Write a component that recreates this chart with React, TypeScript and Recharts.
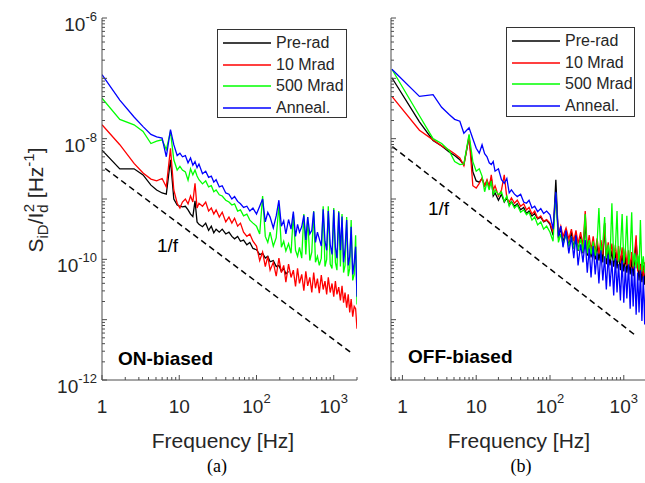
import React from "react";
import { LineChart, Line, XAxis, YAxis, Legend } from "recharts";

const SANS = "'Liberation Sans', Arial, sans-serif";
const SERIF = "'Liberation Serif', 'Times New Roman', serif";
const TEXT = "#262626";
const FRAME = "#4d4d4d";

const SERIES_KEYS = ["pre", "m10", "m500", "anneal"];
const SERIES_NAMES = ["Pre-rad", "10 Mrad", "500 Mrad", "Anneal."];
const SERIES_COLORS = ["#000000", "#ff0000", "#00ff00", "#0000ff"];

// frequency bins [Hz]
const FREQ_LOW_A = [1, 1.7, 2.6, 3.4, 4.3, 5.1, 6, 6.8, 7.7, 8.5, 9.4, 10.2, 11, 12, 13, 14, 15, 16, 17, 18, 20, 22, 24, 26, 28, 30, 33, 36, 40, 44, 48, 52, 57, 62, 68, 75, 82, 90];
const FREQ_LOW_B = [0.72, 1.7, 2.6, 3.4, 4.3, 5.1, 6, 6.8, 8, 9, 10, 11, 12, 13, 14, 15, 16, 17, 18, 20, 22, 24, 26, 28, 30, 33, 36, 40, 44, 48, 52, 57, 62, 68, 75, 82, 90];
const FREQ_HIGH = [100, 110, 120, 130, 140, 150, 165, 180, 195, 210, 225, 240, 260, 280, 300, 320, 340, 360, 385, 410, 435, 460, 490, 520, 550, 580, 615, 650, 690, 730, 770, 810, 850, 900, 950, 1000, 1050, 1100, 1160, 1220, 1280, 1340, 1400, 1470, 1540, 1610, 1680, 1760, 1840, 1920, 2000];

// log10(S_iD / I_d^2). (a) ON-biased
const A_PRE = [
  -8.19, -8.5, -8.5, -8.6, -8.77, -8.85, -8.9, -8.92, -8.35, -9.0, -9.1, -9.12, -9.13, -9.12, -9.18, -9.25, -9.29, -9.03, -9.38, -9.42,
  -9.46, -9.4, -9.52, -9.45, -9.56, -9.5, -9.55, -9.5, -9.58, -9.55, -9.62, -9.66, -9.62, -9.7, -9.68, -9.76, -9.72, -9.82,
  -9.84, -9.92, -9.9, -9.98, -9.95, -10.04, -10.02, -10.12, -10.1, -10.2, -10.15, -10.24, -10.2,
  null, null, null, null, null, null, null, null, null, null, null, null, null, null, null, null, null, null, null,
  null, null, null, null, null, null, null, null, null, null, null, null, null, null, null, null, null, null, null,
];
const A_10M = [
  -7.77, -8.1, -8.41, -8.57, -8.67, -8.7, -8.66, -8.8, -8.16, -8.85, -9.07, -9.15, -9.05, -9.0, -9.08, -8.95, -9.05, -8.74, -9.15, -9.07,
  -9.12, -9.05, -9.2, -9.15, -9.25, -9.18, -9.3, -9.22, -9.38, -9.3, -9.4, -9.32, -9.45, -9.4, -9.55, -9.62, -9.58, -9.7,
  -9.78, -10.02, -9.88, -10.12, -9.95, -10.18, -10.05, -10.28, -9.98, -10.22, -10.1, -10.38, -10.08, -10.3, -10.18, -10.45, -10.15,
  -10.4, -10.25, -10.52, -10.2, -10.44, -10.3, -10.55, -10.22, -10.48, -10.32, -10.56, -10.26, -10.5, -10.36, -10.58, -10.3,
  -10.55, -10.4, -10.62, -10.36, -10.58, -10.46, -10.68, -10.44, -10.72, -10.55, -10.8, -10.58, -10.88, -10.66, -10.95, -10.78,
  -10.82, -11.15,
];
const A_500M = [
  -7.33, -7.68, -7.77, -7.88, -8.08, -8.04, -8.02, -8.18, -7.88, -8.35, -8.52, -8.46, -8.52, -8.55, -8.69, -8.5, -8.6, -8.52, -8.62, -8.68,
  -8.75, -8.7, -8.8, -8.78, -8.88, -8.85, -8.93, -8.95, -9.02, -9.05, -9.1, -9.08, -9.2, -9.18, -9.28, -9.25, -9.35, -9.4,
  -9.45, -9.58, -8.95, -9.62, -9.72, -9.55, -9.78, -9.64, -9.1, -9.8, -9.7, -9.86, -9.74, -9.9, -9.25, -9.85, -9.95,
  -9.8, -9.98, -9.25, -9.92, -9.3, -10.02, -9.88, -9.2, -10.05, -9.95, -10.1, -9.98, -9.12, -10.12, -10.0, -9.12,
  -10.08, -10.15, -9.15, -10.05, -10.18, -9.2, -10.12, -9.25, -10.22, -10.1, -9.3, -10.28, -10.15, -9.35, -10.35, -10.25,
  -9.6, -10.75,
];
const A_ANNEAL = [
  -6.94, -7.36, -7.64, -7.8, -7.93, -7.97, -7.99, -8.3, -7.85, -8.1, -8.28, -8.24, -8.3, -8.28, -8.4, -8.32, -8.44, -8.38, -8.48, -8.42,
  -8.58, -8.54, -8.64, -8.62, -8.72, -8.68, -8.8, -8.78, -8.9, -8.92, -9.0, -8.96, -9.04, -9.08, -9.14, -9.12, -9.2, -9.15,
  -9.25, -9.12, -9.0, -9.38, -9.22, -9.3, -9.48, -9.28, -9.02, -9.45, -9.36, -9.58, -9.34, -9.5, -9.21, -9.62, -9.42,
  -9.55, -9.46, -9.27, -9.68, -9.3, -9.58, -9.52, -9.21, -9.72, -9.55, -9.66, -9.78, -9.17, -9.7, -9.85, -9.2,
  -9.75, -9.92, -9.18, -9.8, -9.98, -9.22, -9.85, -9.29, -10.05, -9.82, -9.35, -10.1, -9.95, -9.46, -10.25, -10.05,
  -9.79, -10.62,
];

// (b) OFF-biased
const B_PRE = [
  -6.99, -7.72, -8.03, -8.12, -8.22, -8.28, -8.35, -8.43, -7.98, -8.55, -8.7, -8.72, -8.66, -8.78, -8.7, -8.8, -8.65, -8.95, -8.9, -9.02,
  -8.92, -9.05, -8.98, -9.1, -9.04, -9.12, -9.08, -9.18, -9.14, -9.24, -9.2, -9.28, -9.24, -9.33, -9.3, -9.38, -9.35,
  -9.42, -9.6, -8.68, -9.65, -9.48, -9.72, -9.52, -9.78, -9.55, -9.82, -9.58, -9.86, -9.62, -9.9, -9.4, -9.94, -9.68,
  -9.97, -9.72, -10.0, -9.75, -10.02, -9.78, -10.05, -9.4, -10.08, -9.82, -10.1, -9.85, -10.12, -9.88, -10.15, -9.9,
  -10.18, -9.92, -10.2, -9.95, -10.22, -9.98, -10.25, -10.0, -10.28, -10.02, -9.7, -10.05, -10.35, -10.08, -10.38, -10.1,
  -10.42, -10.15,
];
const B_10M = [
  -7.3, -7.86, -8.02, -8.12, -8.19, -8.25, -8.32, -8.45, -7.95, -8.78, -8.82, -8.74, -8.65, -8.78, -8.68, -8.8, -8.6, -8.85, -8.78, -8.95,
  -8.85, -8.6, -8.99, -9.05, -8.98, -9.07, -9.02, -9.12, -9.08, -9.18, -9.14, -9.25, -9.2, -9.32, -9.28, -9.37, -9.34,
  -9.4, -9.55, -8.95, -9.58, -9.45, -9.62, -9.48, -9.66, -9.5, -9.7, -9.52, -9.74, -9.55, -9.78, -9.2, -9.82, -9.6,
  -9.85, -9.62, -9.88, -9.65, -9.9, -9.68, -9.92, -9.4, -9.95, -9.72, -9.98, -9.74, -10.0, -9.76, -10.02, -9.78,
  -10.05, -9.8, -10.08, -9.82, -10.1, -9.85, -10.12, -9.88, -10.15, -9.9, -9.6, -10.2, -9.95, -10.25, -10.0, -10.3,
  -10.05, -10.35,
];
const B_500M = [
  -6.85, -7.62, -8.0, -8.08, -8.2, -8.38, -8.43, -8.42, -7.93, -8.38, -8.54, -8.5, -8.62, -8.88, -8.72, -8.85, -8.7, -8.93, -8.85, -8.93,
  -8.88, -9.04, -8.95, -9.12, -9.05, -9.15, -9.1, -9.22, -9.18, -9.26, -9.22, -9.35, -9.3, -9.43, -9.38, -9.5, -9.45,
  -9.55, -9.7, -8.9, -9.72, -9.58, -9.75, -9.6, -9.78, -9.62, -9.82, -9.65, -9.85, -9.66, -9.88, -9.25, -9.9, -9.68,
  -9.92, -9.7, -9.94, -9.72, -9.15, -9.96, -9.74, -9.3, -9.98, -9.76, -10.0, -9.07, -10.02, -9.8, -9.2, -10.04,
  -9.82, -9.25, -10.06, -9.85, -9.28, -10.1, -9.88, -9.22, -10.12, -9.9, -10.15, -9.92, -10.18, -9.35, -10.2, -9.95,
  -10.22, -10.0,
];
const B_ANNEAL = [
  -6.85, -7.3, -7.27, -7.48, -7.6, -7.68, -7.71, -7.91, -7.82, -8.0, -8.16, -8.24, -8.1, -8.25, -8.3, -8.4, -8.43, -8.38, -8.54, -8.5,
  -8.68, -8.74, -8.66, -8.9, -8.85, -8.92, -8.96, -8.92, -9.05, -9.07, -9.02, -9.15, -9.12, -9.21, -9.16, -9.24, -9.2,
  -9.26, -9.5, -8.88, -9.62, -9.45, -9.8, -9.52, -9.9, -9.62, -9.98, -9.6, -10.1, -9.75, -10.05, -9.68, -10.22, -9.82,
  -10.3, -9.78, -10.25, -9.9, -10.4, -9.85, -10.35, -9.95, -10.5, -9.92, -10.45, -10.02, -10.6, -9.98, -10.55, -10.08,
  -10.68, -10.02, -10.72, -10.12, -10.65, -10.08, -10.82, -10.15, -10.78, -10.12, -10.92, -10.22, -10.88, -10.18, -11.02, -10.28,
  -11.08, -10.25,
];

// 1/f guide lines, end points
const GUIDE_A = [{ f: 1.1, v: 3.2e-9 }, { f: 1700, v: 2.8e-12 }];
const GUIDE_B = [{ f: 0.73, v: 7.4e-9 }, { f: 1440, v: 5.5e-12 }];

const X_TICKS_A = [1, 2, 3, 4, 5, 6, 7, 8, 9, 10, 20, 30, 40, 50, 60, 70, 80, 90, 100, 200, 300, 400, 500, 600, 700, 800, 900, 1000, 2000];
const X_TICKS_B = [0.7, 0.8, 0.9, ...X_TICKS_A];
const Y_TICKS: number[] = [];
for (let e = -12; e < -6; e++) for (let k = 1; k < 10; k++) Y_TICKS.push(k * Math.pow(10, e));
Y_TICKS.push(1e-6);

function buildRows(freqs: number[], series: (number | null)[][]) {
  return freqs.map((f, i) => {
    const row: any = { f };
    SERIES_KEYS.forEach((key, s) => {
      const e = series[s][i];
      row[key] = e == null ? null : Math.pow(10, e);
    });
    return row;
  });
}

const ROWS_A = buildRows([...FREQ_LOW_A, ...FREQ_HIGH], [A_PRE, A_10M, A_500M, A_ANNEAL]);
const ROWS_B = buildRows([...FREQ_LOW_B, ...FREQ_HIGH], [B_PRE, B_10M, B_500M, B_ANNEAL]);

const isDecade = (v: number) => Math.abs(Math.log10(v) - Math.round(Math.log10(v))) < 1e-6;

function BottomTick(props: any) {
  const { x, y, payload } = props;
  const v = payload.value;
  const major = isDecade(v);
  const exp = Math.round(Math.log10(v));
  return (
    <g>
      <line x1={x} x2={x} y1={y} y2={y - (major ? 5 : 3)} stroke={FRAME} />
      {major && (
        <text x={x} y={y + 33} textAnchor="middle" fontFamily={SANS} fontSize={19} fill={TEXT}>
          {exp < 2 ? (
            <tspan>{String(Math.round(v))}</tspan>
          ) : (
            <>
              <tspan>10</tspan>
              <tspan dy={-10} fontSize={13}>{exp}</tspan>
            </>
          )}
        </text>
      )}
    </g>
  );
}

function TopTick(props: any) {
  const { x, y, payload } = props;
  const len = isDecade(payload.value) ? 5 : 3;
  return <line x1={x} x2={x} y1={y} y2={y + len} stroke={FRAME} />;
}

function LeftTick(props: any) {
  const { x, y, payload, showLabel } = props;
  const v = payload.value;
  const major = isDecade(v);
  const exp = Math.round(Math.log10(v));
  return (
    <g>
      <line x1={x} x2={x + (major ? 5 : 3)} y1={y} y2={y} stroke={FRAME} />
      {showLabel && major && exp % 2 === 0 && (
        <text x={x - 5} y={y + 13} textAnchor="end" fontFamily={SANS} fontSize={19} fill={TEXT}>
          <tspan>10</tspan>
          <tspan dy={-10} fontSize={13}>{String(exp)}</tspan>
        </text>
      )}
    </g>
  );
}

function RightTick(props: any) {
  const { x, y, payload } = props;
  const len = isDecade(payload.value) ? 5 : 3;
  return <line x1={x} x2={x - len} y1={y} y2={y} stroke={FRAME} />;
}

function LegendBox(props: any) {
  // keep the plotting order, not the alphabetical one
  const items = (props.payload || [])
    .filter((p: any) => SERIES_NAMES.includes(p.value))
    .sort((a: any, b: any) => SERIES_NAMES.indexOf(a.value) - SERIES_NAMES.indexOf(b.value));
  return (
    <div
      style={{
        width: "100%",
        height: "100%",
        boxSizing: "border-box",
        border: "1px solid #333",
        background: "#fff",
        paddingTop: 2.5,
        fontFamily: SANS,
        fontSize: 16,
        color: TEXT,
      }}
    >
      {items.map((p: any) => (
        <div key={p.value} style={{ height: 21.5, display: "flex", alignItems: "center" }}>
          <svg width={53} height={4} style={{ marginLeft: 5 }}>
            <line x1={0} x2={48} y1={2} y2={2} stroke={p.color} strokeWidth={1.5} />
          </svg>
          <span style={{ lineHeight: 1 }}>{p.value}</span>
        </div>
      ))}
    </div>
  );
}

function Panel({ rows, guide, xDomain, xTicks, width, yAxisWidth, marginRight, showYLabels, legendStyle }: any) {
  return (
    <LineChart width={width} height={483} data={rows} margin={{ top: 18, right: marginRight, bottom: 0, left: 0 }}>
      <XAxis
        dataKey="f"
        type="number"
        scale="log"
        domain={xDomain}
        allowDataOverflow
        ticks={xTicks}
        interval={0}
        height={103}
        tickSize={0}
        tickMargin={0}
        tickLine={false}
        axisLine={{ stroke: FRAME }}
        tick={(p: any) => <BottomTick {...p} />}
      />
      <XAxis
        xAxisId="top"
        orientation="top"
        type="number"
        scale="log"
        domain={xDomain}
        allowDataOverflow
        ticks={xTicks}
        interval={0}
        height={0}
        tickSize={0}
        tickMargin={0}
        tickLine={false}
        axisLine={{ stroke: FRAME }}
        tick={(p: any) => <TopTick {...p} />}
      />
      <YAxis
        type="number"
        scale="log"
        domain={[1e-12, 1e-6]}
        allowDataOverflow
        ticks={Y_TICKS}
        interval={0}
        width={yAxisWidth}
        tickSize={0}
        tickMargin={0}
        tickLine={false}
        axisLine={{ stroke: FRAME }}
        tick={(p: any) => <LeftTick {...p} showLabel={showYLabels} />}
      />
      <YAxis
        yAxisId="right"
        orientation="right"
        type="number"
        scale="log"
        domain={[1e-12, 1e-6]}
        allowDataOverflow
        ticks={Y_TICKS}
        interval={0}
        width={0}
        tickSize={0}
        tickMargin={0}
        tickLine={false}
        axisLine={{ stroke: FRAME }}
        tick={(p: any) => <RightTick {...p} />}
      />
      {SERIES_KEYS.map((key, i) => (
        <Line
          key={key}
          dataKey={key}
          name={SERIES_NAMES[i]}
          stroke={SERIES_COLORS[i]}
          strokeWidth={1.3}
          dot={false}
          type="linear"
          isAnimationActive={false}
        />
      ))}
      <Line
        data={guide}
        dataKey="v"
        name="1/f"
        stroke="#000"
        strokeWidth={1.5}
        strokeDasharray="6 4"
        dot={false}
        type="linear"
        legendType="none"
        isAnimationActive={false}
      />
      <Legend
        layout="vertical"
        align="center"
        verticalAlign="middle"
        wrapperStyle={legendStyle}
        content={(p: any) => <LegendBox {...p} />}
      />
    </LineChart>
  );
}

export default function App() {
  return (
    <div style={{ position: "absolute", left: 0, top: 0, width: 645, height: 483, overflow: "hidden", background: "#fff" }}>
      <svg width={645} height={483} style={{ position: "absolute", left: 0, top: 0 }}>
        <text transform="translate(43,200) rotate(-90)" textAnchor="middle" fontFamily={SANS} fontSize={21} fill={TEXT}>
          <tspan>S</tspan>
          <tspan dy={5} fontSize={15}>iD</tspan>
          <tspan dy={-5}>/I</tspan>
          <tspan dy={5} fontSize={15}>d</tspan>
          <tspan dx={-8} dy={-14} fontSize={15}>2</tspan>
          <tspan dy={9}>{" [Hz"}</tspan>
          <tspan dy={-9} fontSize={15}>-1</tspan>
          <tspan dy={9}>]</tspan>
        </text>
        <text x={223} y={448} textAnchor="middle" fontFamily={SANS} fontSize={21} fill={TEXT}>Frequency [Hz]</text>
        <text x={519} y={448} textAnchor="middle" fontFamily={SANS} fontSize={21} fill={TEXT}>Frequency [Hz]</text>
        <text x={217} y={472} textAnchor="middle" fontFamily={SERIF} fontSize={18} fill="#000">(a)</text>
        <text x={521} y={472} textAnchor="middle" fontFamily={SERIF} fontSize={18} fill="#000">(b)</text>
      </svg>
      <div style={{ position: "absolute", left: 0, top: 0 }}>
        <Panel
          rows={ROWS_A}
          guide={GUIDE_A}
          xDomain={[1, 2000]}
          xTicks={X_TICKS_A}
          width={380}
          yAxisWidth={102}
          marginRight={23}
          showYLabels
          legendStyle={{ left: 217, top: 29, width: 130, height: 89 }}
        />
      </div>
      <div style={{ position: "absolute", left: 380, top: 0 }}>
        <Panel
          rows={ROWS_B}
          guide={GUIDE_B}
          xDomain={[0.7, 2000]}
          xTicks={X_TICKS_B}
          width={267}
          yAxisWidth={11}
          marginRight={1}
          showYLabels={false}
          legendStyle={{ left: 126, top: 27, width: 129, height: 90 }}
        />
      </div>
      <svg width={645} height={483} style={{ position: "absolute", left: 0, top: 0, pointerEvents: "none" }}>
        <text x={157} y={252} fontFamily={SANS} fontSize={19} fill="#000">1/f</text>
        <text x={428} y={215} fontFamily={SANS} fontSize={19} fill="#000">1/f</text>
        <text x={118} y={365} fontFamily={SANS} fontSize={19} fontWeight="bold" fill="#000">ON-biased</text>
        <text x={408} y={363} fontFamily={SANS} fontSize={19} fontWeight="bold" fill="#000">OFF-biased</text>
      </svg>
    </div>
  );
}
